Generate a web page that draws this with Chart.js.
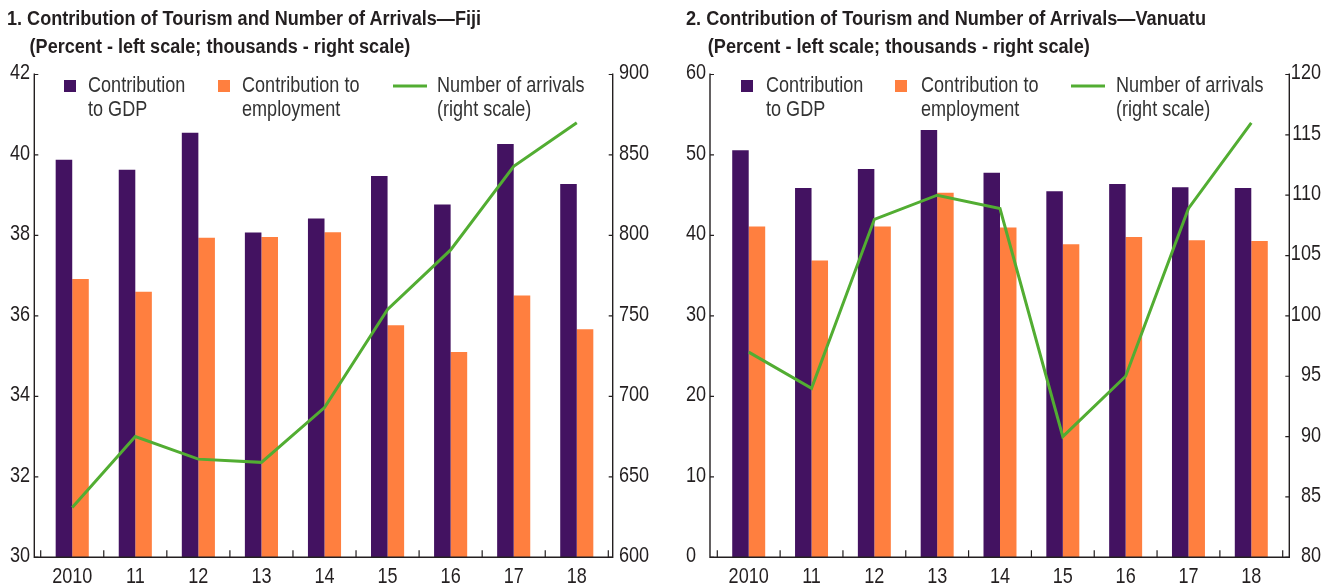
<!DOCTYPE html>
<html><head><meta charset="utf-8">
<script src="https://cdn.jsdelivr.net/npm/chart.js@4.4.1/dist/chart.umd.min.js"></script>
<style>
html,body{margin:0;padding:0;background:#fff;}
#wrap{position:relative;width:1326px;height:586px;overflow:hidden;}
.panel{position:absolute;top:0;height:586px;}
.title{position:absolute;font-family:'Liberation Sans',Arial,sans-serif;font-weight:bold;font-size:20px;color:#231f20;white-space:nowrap;line-height:28px;transform-origin:0 0;}
.title span{display:inline-block;}
</style></head><body>
<div id="wrap">
  <div class="panel" style="left:0;width:660px"><canvas id="c1"></canvas></div>
  <div class="panel" style="left:660px;width:666px"><canvas id="c2"></canvas></div>
  <div class="title" id="t1" style="left:7px;top:4px"></div>
  <div class="title" id="t2" style="left:686px;top:4px"></div>
</div>
<script>
// ---- data ----
const years = ['2010','11','12','13','14','15','16','17','18'];
const fijiGdp = [39.88,39.63,40.55,38.07,38.42,39.48,38.77,40.27,39.28];
const fijiEmp = [36.92,36.60,37.94,37.96,38.08,35.77,35.10,36.51,35.67];
const fijiArrivals = [631,675,661,659,693,754,791,843,870];
const vanGdp = [50.6,45.9,48.25,53.1,47.8,45.5,46.4,46.0,45.9];
const vanEmp = [41.1,36.9,41.1,45.3,41.0,38.9,39.8,39.4,39.3];
const vanArrivals = [97,94,108,110,108.9,90,95,108.9,116];
const fijiLeftTicks = [30,32,34,36,38,40,42];
const fijiRightTicks = [600,650,700,750,800,850,900];
const vanLeftTicks = [0,10,20,30,40,50,60];
const vanRightTicks = [80,85,90,95,100,105,110,115,120];
const titleFiji = ['1. Contribution of Tourism and Number of Arrivals\u2014Fiji','(Percent - left scale; thousands - right scale)'];
const titleVan = ['2. Contribution of Tourism and Number of Arrivals\u2014Vanuatu','(Percent - left scale; thousands - right scale)'];
const legendLabels = [['Contribution','to GDP'],['Contribution to','employment'],['Number of arrivals','(right scale)']];

const SX = 0.84; // horizontal condensing to mimic a narrow typeface
function setTitle(id, lines, indent, targetW) {
  const el = document.getElementById(id);
  el.innerHTML = '<span>' + lines[0] + '</span><br><span style="margin-left:' + indent + 'px">' + lines[1] + '</span>';
  const w = el.querySelector('span').getBoundingClientRect().width;
  el.style.transform = 'scaleX(' + (targetW / w) + ')';
}
setTitle('t1', titleFiji, 25, 474);
setTitle('t2', titleVan, 24, 520);

const FONT = "'Liberation Sans',Arial,sans-serif";
const INK = '#231f20';
const PURPLE = '#431261', ORANGE = '#ff7f3f', GREEN = '#52ad32';

function txt(ctx, s, x, y, align) {
  ctx.save(); ctx.translate(x, y); ctx.scale(SX, 1);
  ctx.textAlign = align; ctx.fillText(s, 0, 0); ctx.restore();
}

const axesPlugin = {
  id: 'customAxes',
  afterDraw(chart, args, o) {
    const {ctx, chartArea: a, scales} = chart;
    const xL = a.left - o.gapL, xR = a.right + o.gapR, yB = a.bottom;
    ctx.save();
    ctx.strokeStyle = INK; ctx.lineWidth = 1.4;
    ctx.beginPath();
    ctx.moveTo(xL, a.top - 1); ctx.lineTo(xL, yB); ctx.lineTo(xR, yB); ctx.lineTo(xR, a.top - 1);
    ctx.stroke();
    ctx.lineWidth = 1.2;
    ctx.beginPath();
    scales.y.ticks.forEach(t => { const y = scales.y.getPixelForValue(t.value); ctx.moveTo(xL, y); ctx.lineTo(xL + 4, y); });
    scales.y1.ticks.forEach(t => { const y = scales.y1.getPixelForValue(t.value); ctx.moveTo(xR - 4, y); ctx.lineTo(xR, y); });
    const n = scales.x.ticks.length, w = (a.right - a.left) / n;
    for (let i = 0; i <= n; i++) { const x = a.left + i * w; ctx.moveTo(x, yB); ctx.lineTo(x, yB - 7); }
    ctx.stroke();
    // tick labels
    ctx.font = '21.5px ' + FONT;
    ctx.fillStyle = INK; ctx.textBaseline = 'middle';
    scales.y.ticks.forEach(t => txt(ctx, String(t.value), o.lX, scales.y.getPixelForValue(t.value) - 1, o.lAlign));
    scales.y1.ticks.forEach(t => txt(ctx, String(t.value), o.rX, scales.y1.getPixelForValue(t.value) - 1, o.rAlign));
    chart.data.labels.forEach((l, i) => txt(ctx, l, scales.x.getPixelForValue(i), 577, 'center'));
    // legend
    const cols = [PURPLE, ORANGE, GREEN];
    o.legendX.forEach((lx, i) => {
      if (i < 2) { ctx.fillStyle = cols[i]; ctx.fillRect(lx, 80, 12, 12); }
      else { ctx.strokeStyle = cols[i]; ctx.lineWidth = 3; ctx.beginPath(); ctx.moveTo(lx, 86); ctx.lineTo(lx + 34, 86); ctx.stroke(); }
      ctx.fillStyle = '#333';
      legendLabels[i].forEach((s, k) => txt(ctx, s, o.textX[i], 86 + k * 24, 'left'));
    });
    ctx.restore();
  }
};

function makeChart(id, gdp, emp, arr, lt, rt, lay) {
  return new Chart(document.getElementById(id), {
    type: 'bar',
    data: {
      labels: years,
      datasets: [
        {type: 'line', data: arr, yAxisID: 'y1', borderColor: GREEN, borderWidth: 3, pointRadius: 0, tension: 0, order: 0},
        {data: gdp, backgroundColor: PURPLE, yAxisID: 'y', order: 1, categoryPercentage: 0.525, barPercentage: 1},
        {data: emp, backgroundColor: ORANGE, yAxisID: 'y', order: 1, categoryPercentage: 0.525, barPercentage: 1}
      ]
    },
    options: {
      responsive: true, maintainAspectRatio: false, animation: false,
      layout: {padding: {top: 74.5, left: lay.padL, right: lay.padR, bottom: 0}},
      plugins: {legend: {display: false}, tooltip: {enabled: false}, customAxes: lay},
      scales: {
        x: {offset: true, grid: {display: false, drawTicks: false}, border: {display: false},
            ticks: {display: false}, afterFit: s => { s.height = 28.7; }},
        y: {position: 'left', min: lt[0], max: lt[lt.length - 1], grid: {display: false, drawTicks: false}, border: {display: false},
            ticks: {display: false, stepSize: lt[1] - lt[0]}, afterFit: s => { s.width = lay.lW; }},
        y1: {position: 'right', min: rt[0], max: rt[rt.length - 1], grid: {display: false, drawTicks: false}, border: {display: false},
            ticks: {display: false, stepSize: rt[1] - rt[0]}, afterFit: s => { s.width = lay.rW; }}
      }
    },
    plugins: [axesPlugin]
  });
}

makeChart('c1', fijiGdp, fijiEmp, fijiArrivals, fijiLeftTicks, fijiRightTicks,
  {padL: 0, padR: 0, lW: 40.7, rW: 51.7, lX: 30, rX: 619, lAlign: 'right', rAlign: 'left',
   gapL: 6.4, gapR: 4.4, legendX: [64, 218, 393], textX: [88, 242, 437]});
makeChart('c2', vanGdp, vanEmp, vanArrivals, vanLeftTicks, vanRightTicks,
  {padL: 26, padR: 5, lW: 31.3, rW: 38.3, lX: 26, rX: 661, lAlign: 'left', rAlign: 'right',
   gapL: 7.3, gapR: 6.6, legendX: [81, 235, 411], textX: [106, 261, 456]});
</script>
</body></html>
